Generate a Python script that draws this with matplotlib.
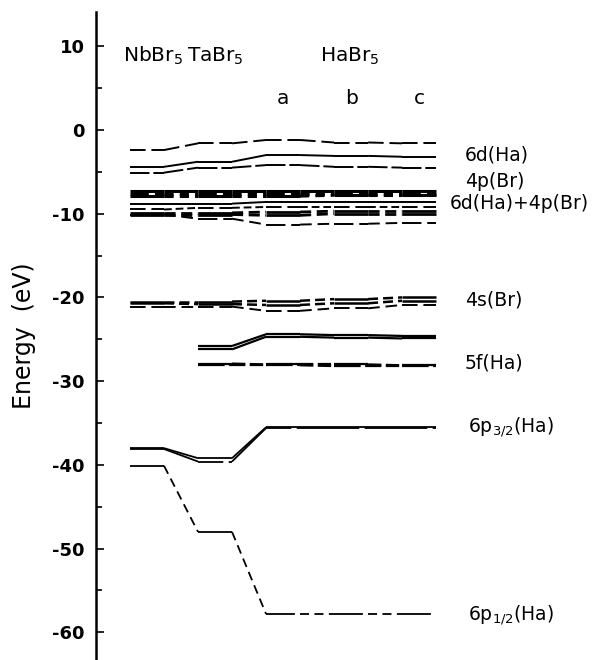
import numpy as np
import matplotlib
matplotlib.use("Agg")
import matplotlib.pyplot as plt

plt.rcParams['font.family'] = ['DejaVu Sans']
plt.rcParams['mathtext.default'] = 'regular'

# columns: NbBr5, TaBr5, HaBr5 (a), HaBr5 (b), HaBr5 (c)
compounds = ["NbBr$_5$", "TaBr$_5$", "HaBr$_5$"]
variants = ["a", "b", "c"]
nan = np.nan

# energy levels (eV) per column, flat-segment style, link style, line width
levels = [
    # 6d(Ha)
    ([-2.4, -1.6, -1.2, -1.5, -1.6], (0, (8, 3)), (0, (8, 3)), 1.4),
    ([-4.4, -3.8, -3.0, -3.1, -3.2], '-', '-', 1.4),
    ([-5.1, -4.5, -4.2, -4.4, -4.5], (0, (10, 2)), (0, (10, 2)), 1.4),
    # 4p(Br)
    ([-7.3, -7.3, -7.3, -7.3, -7.3], '-', '-', 2.2),
    ([-7.6, -7.6, -7.6, -7.6, -7.6], (0, (6, 2)), (0, (3, 2)), 2.2),
    ([-7.9, -7.9, -7.9, -7.8, -7.8], '-', (0, (3, 2)), 2.2),
    # 6d(Ha)+4p(Br)
    ([-8.8, -8.8, -8.6, -8.6, -8.6], '-', '-', 1.4),
    ([-9.5, -9.3, -9.2, -9.2, -9.2], (0, (8, 3)), (0, (4, 2)), 1.4),
    ([-9.9, -9.9, -9.8, -9.7, -9.7], '-', (0, (4, 2)), 2.0),
    ([-10.1, -10.1, -10.2, -10.0, -10.0], '-', (0, (4, 2)), 2.0),
    ([-10.1, -10.6, -11.3, -11.2, -11.1], (0, (10, 3)), (0, (6, 3)), 1.4),
    # 4s(Br)
    ([-20.5, -20.5, -20.4, -20.2, -20.0], '-', (0, (4, 2)), 1.8),
    ([-20.7, -20.8, -20.9, -20.7, -20.4], '-', (0, (4, 2)), 1.8),
    ([-21.1, -21.1, -21.6, -21.3, -20.9], (0, (8, 3)), (0, (6, 3)), 1.4),
    # ~-25 and 5f(Ha)
    ([nan, -25.8, -24.4, -24.5, -24.6], '-', '-', 1.6),
    ([nan, -26.2, -24.7, -24.8, -24.9], '-', '-', 1.6),
    ([nan, -27.9, -28.0, -28.0, -28.1], '-', (0, (6, 2)), 1.6),
    ([nan, -28.1, -28.1, -28.2, -28.2], (0, (12, 2)), (0, (6, 2)), 1.6),
    # 6p3/2(Ha)
    ([-38.0, -39.2, -35.5, -35.5, -35.5], '-', '-', 1.3),
    ([-38.1, -39.6, -35.6, -35.6, -35.6], (0, (14, 3)), '-', 1.3),
    # 6p1/2(Ha)
    ([-40.1, -48.0, -57.8, -57.8, -57.8], (0, (16, 3, 2, 3)), (0, (5, 3)), 1.3),
]
# columns whose flats are drawn solid regardless of the level style
solid_cols = {20: [0, 1], 19: [0]}

orbital_labels = ["6d(Ha)", "4p(Br)", "6d(Ha)+4p(Br)", "4s(Br)", "5f(Ha)",
                  "6p$_{3/2}$(Ha)", "6p$_{1/2}$(Ha)"]
orbital_y = [-3.0, -6.2, -8.8, -20.3, -27.8, -35.5, -57.9]
orbital_x = [9.85, 9.85, 9.4, 9.85, 9.85, 9.95, 9.95]

fig = plt.figure(figsize=(5.96, 6.60), dpi=100)
ax = fig.add_axes([0.161, 0.0, 0.839, 0.982])

for n, (energies, flat_ls, link_ls, lw) in enumerate(levels):
    col = [i for i, e in enumerate(energies) if not np.isnan(e)]
    for i in col:
        ls = '-' if i in solid_cols.get(n, []) else flat_ls
        ax.plot([2 * i, 2 * i + 1], [energies[i], energies[i]], color='black',
                lw=lw, linestyle=ls, solid_capstyle='butt', dash_capstyle='butt')
        if i + 1 in col:
            ax.plot([2 * i + 1, 2 * i + 2], [energies[i], energies[i + 1]],
                    color='black', lw=lw, linestyle=link_ls,
                    solid_capstyle='butt', dash_capstyle='butt')

# column headers
ax.text(0.68, 8.8, compounds[0], ha='center', va='center', fontsize=14.5)
ax.text(2.5, 8.8, compounds[1], ha='center', va='center', fontsize=14.5)
ax.text(6.47, 8.8, compounds[2], ha='center', va='center', fontsize=14.5)
for k, v in enumerate(variants):
    ax.text(4.5 + 2 * k, 3.7, v, ha='center', va='center', fontsize=14.5)

for lab, x, y in zip(orbital_labels, orbital_x, orbital_y):
    ax.text(x, y, lab, ha='left', va='center', fontsize=13.5)

ax.set_xlim(-1, 13.7)
ax.set_ylim(-63.3, 14.1)
for s in ['top', 'right', 'bottom']:
    ax.spines[s].set_visible(False)
ax.spines['left'].set_linewidth(1.8)
ax.set_xticks([])
ax.set_yticks(np.arange(-60, 11, 10))
ax.set_yticks(np.arange(-55, 11, 10), minor=True)
ax.tick_params(axis='y', which='major', direction='in', length=6, width=1.2,
               pad=8, labelsize=13)
ax.tick_params(axis='y', which='minor', direction='in', length=4, width=1.2)
ax.set_yticklabels([str(v) for v in range(-60, 11, 10)], fontweight='bold')
ax.set_ylabel("Energy  (eV)", fontsize=17, labelpad=12)

fig.savefig("out.png", dpi=100)
